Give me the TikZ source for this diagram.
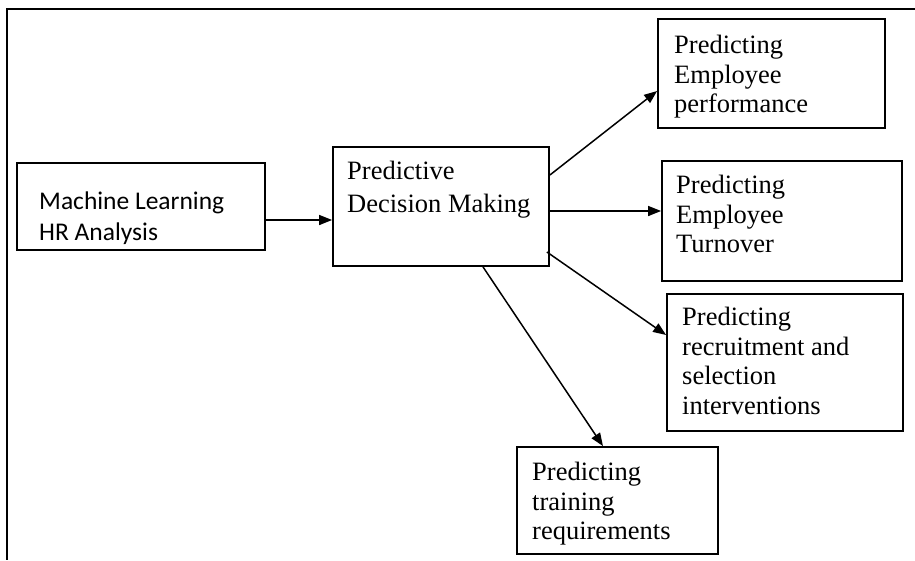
\documentclass[tikz,border=0pt]{standalone}
\usepackage{fontspec}
\setmainfont{Liberation Serif}
\newfontfamily\calfont{Carlito}
\usepackage{tikz}
\usetikzlibrary{arrows.meta, positioning}

\begin{document}
\begin{tikzpicture}[x=1pt,y=-1pt,>={Triangle[length=13pt,width=10pt]},shorten >=0pt]
  \tikzstyle{box}=[draw,line width=1.8pt,rectangle,inner sep=0pt]
  \tikzstyle{txt}=[anchor=north west,inner sep=0pt,align=left,font=\fontsize{26.5}{29.5}\selectfont]
  \useasboundingbox (0,0) rectangle (915,560);

  % frame (cut at right and bottom)
  \draw[line width=1.6pt] (915,9) -- (7,9) -- (7,560);

  \node[box,minimum width=248pt,minimum height=87pt]  (ml)    at (141,206.5) {};
  \node[box,minimum width=216pt,minimum height=119pt] (pdm)   at (441,206.5) {};
  \node[box,minimum width=227pt,minimum height=109pt] (perf)  at (771.5,73.5) {};
  \node[box,minimum width=240pt,minimum height=120pt] (turn)  at (782,221)   {};
  \node[box,minimum width=236pt,minimum height=137pt] (recr)  at (785,362.5) {};
  \node[box,minimum width=201pt,minimum height=107pt] (train) at (617.5,500.5) {};

  \node[txt,font=\calfont\fontsize{25.5}{31}\selectfont] (ml_t) at (39,192) {Machine Learning\\HR Analysis};
  \node[txt,font=\fontsize{26.5}{33}\selectfont] (pdm_t) at (347,161) {Predictive\\Decision Making};
  \node[txt] (perf_t)  at (674,35)  {Predicting\\Employee\\performance};
  \node[txt] (turn_t)  at (676,175) {Predicting\\Employee\\Turnover};
  \node[txt] (recr_t)  at (682,307) {Predicting\\recruitment and\\selection\\interventions};
  \node[txt] (train_t) at (532,462) {Predicting\\training\\requirements};

  \path[->,line width=1.5pt]
  ([yshift=-13.5pt]ml.east)  edge ([yshift=-13.5pt]pdm.west)
  ([yshift=31.5pt]pdm.east)  edge ([yshift=-17.5pt]perf.west)
  ([yshift=-4.5pt]pdm.east)  edge ([yshift=10pt]turn.west)
  ([xshift=-3pt,yshift=-45.5pt]pdm.east) edge ([yshift=27.5pt]recr.west)
  ([xshift=42pt]pdm.south)   edge ([xshift=-14.5pt]train.north)
  ;
\end{tikzpicture}
\end{document}
